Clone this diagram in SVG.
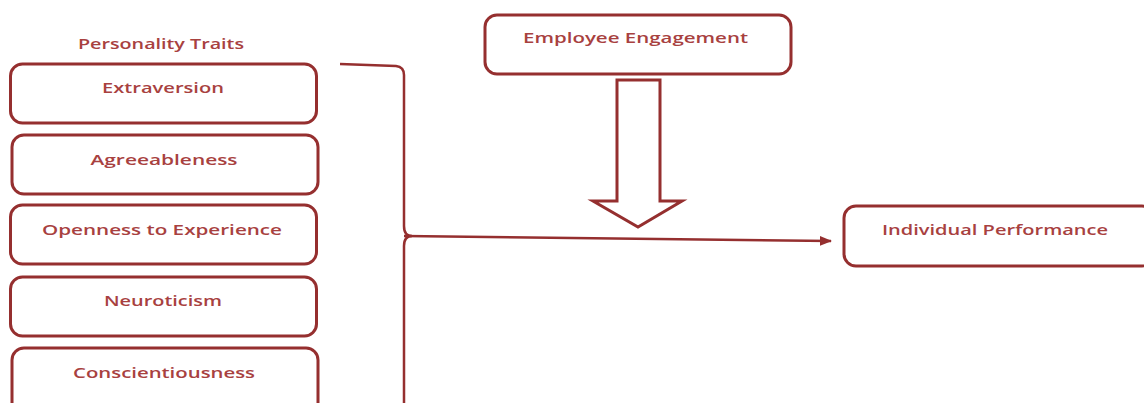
<svg xmlns="http://www.w3.org/2000/svg" width="1144" height="403" viewBox="0 0 1144 403">
<style>
.box{fill:#fff;stroke:#952f2f;stroke-width:3}
.lbl{font-family:"Open Sans","Liberation Sans",sans-serif;font-size:14px;font-weight:600;fill:#a8413f;text-anchor:middle}
.con{fill:none;stroke:#952f2f;stroke-width:2.5}
</style>
<defs>
<marker id="ah" viewBox="0 0 10 10" refX="9" refY="5" markerWidth="5" markerHeight="5" orient="auto" markerUnits="strokeWidth">
<path d="M0,1 L10,5 L0,9 z" fill="#952f2f"/>
</marker>
</defs>
<rect width="1144" height="403" fill="#fff"/>
<text class="lbl" x="161" y="49" textLength="166" lengthAdjust="spacingAndGlyphs">Personality Traits</text>
<g id="extraversion"><rect class="box" x="10.5" y="64" width="306" height="59" rx="12"/><text class="lbl" x="163" y="93" textLength="122" lengthAdjust="spacingAndGlyphs">Extraversion</text></g>
<g id="agreeableness"><rect class="box" x="12" y="135" width="306" height="59" rx="12"/><text class="lbl" x="164" y="165" textLength="147" lengthAdjust="spacingAndGlyphs">Agreeableness</text></g>
<g id="openness"><rect class="box" x="10.5" y="205" width="306" height="59" rx="12"/><text class="lbl" x="162" y="235" textLength="240" lengthAdjust="spacingAndGlyphs">Openness to Experience</text></g>
<g id="neuroticism"><rect class="box" x="10.5" y="277" width="306" height="59" rx="12"/><text class="lbl" x="163" y="306" textLength="118" lengthAdjust="spacingAndGlyphs">Neuroticism</text></g>
<g id="conscientiousness"><rect class="box" x="12" y="348" width="306" height="70" rx="12"/><text class="lbl" x="164" y="378" textLength="182" lengthAdjust="spacingAndGlyphs">Conscientiousness</text></g>
<g id="employee-engagement"><rect class="box" x="485" y="15" width="306" height="59" rx="12"/><text class="lbl" x="635.5" y="43" textLength="225" lengthAdjust="spacingAndGlyphs">Employee Engagement</text></g>
<g id="individual-performance"><rect class="box" x="844" y="206" width="310" height="60" rx="12"/><text class="lbl" x="995" y="235" textLength="226" lengthAdjust="spacingAndGlyphs">Individual Performance</text></g>
<g id="connectors">
<path class="con" d="M340,64 L396,66 Q404,67 404,75 L404,226 Q404,236 412,236 Q404,236 404,246 L404,410"/>
<path class="con" d="M404,236 L831,241" marker-end="url(#ah)"/>
<path d="M617,80 L660,80 L660,201 L682,201 L638,227 L593,201 L617,201 Z" fill="#fff" stroke="#952f2f" stroke-width="3" stroke-linejoin="miter"/>
</g>
</svg>
